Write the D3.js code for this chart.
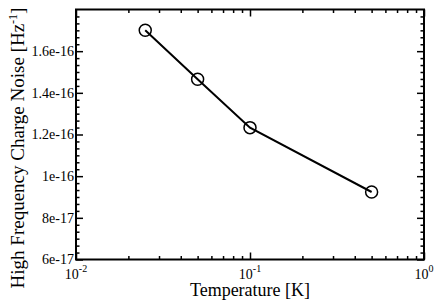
<!DOCTYPE html>
<html>
<head>
<meta charset="utf-8">
<script src="https://cdn.jsdelivr.net/npm/d3@7"></script>
<style>
  body { margin: 0; background: #fff; }
  svg text { font-family: "Liberation Serif", "Times New Roman", Times, serif; }
</style>
</head>
<body>
<svg id="chart" width="436" height="300"></svg>
<script>
// data
var temperature = [0.025, 0.05, 0.1, 0.5];
var noise = [1.70e-16, 1.465e-16, 1.233e-16, 0.924e-16];
var yTicks = [6e-17, 8e-17, 1e-16, 1.2e-16, 1.4e-16, 1.6e-16];
var yTickLabels = ["6e-17", "8e-17", "1e-16", "1.2e-16", "1.4e-16", "1.6e-16"];
var xTicks = [0.01, 0.1, 1];
var xTickExps = ["-2", "-1", "0"];

var serif = "'Liberation Serif', 'Times New Roman', Times, serif";

var svg = d3.select("svg#chart"),
    margin = { top: 9.5, right: 12, bottom: 40.5, left: 76 },
    width = 436 - margin.left - margin.right,
    height = 300 - margin.top - margin.bottom;

var x = d3.scaleLog().domain([0.01, 1]).range([0, width]);
var y = d3.scaleLinear().domain([6e-17, 1.8e-16]).range([height, 0]);

var g = svg.append("g")
    .attr("transform", "translate(" + margin.left + "," + margin.top + ")");

// minor ticks
var yMinor = d3.range(0, 37).map(function (i) { return 6e-17 + i * 2e-17 / 6; })
    .filter(function (v, i) { return i % 6 != 0; });
var xMinor = [];
[0.01, 0.1].forEach(function (dec) {
    for (var k = 2; k <= 9; k++) xMinor.push(dec * k);
});

// bottom / top axes (ticks inward)
g.append("g")
    .attr("transform", "translate(0," + height + ")")
    .call(d3.axisBottom(x).tickValues(xMinor).tickSize(-3.5).tickFormat(""));
g.append("g")
    .attr("transform", "translate(0," + height + ")")
    .call(d3.axisBottom(x).tickValues(xTicks).tickSize(-7).tickFormat(""));
g.append("g")
    .call(d3.axisTop(x).tickValues(xMinor).tickSize(-3.5).tickFormat(""));
g.append("g")
    .call(d3.axisTop(x).tickValues(xTicks).tickSize(-7).tickFormat(""));

// left / right
g.append("g")
    .call(d3.axisLeft(y).tickValues(yMinor).tickSize(-3.5).tickFormat(""));
g.append("g")
    .call(d3.axisLeft(y).tickValues(yTicks).tickSize(-7).tickFormat(""));
g.append("g")
    .attr("transform", "translate(" + width + ",0)")
    .call(d3.axisRight(y).tickValues(yMinor).tickSize(-3.5).tickFormat(""));
g.append("g")
    .attr("transform", "translate(" + width + ",0)")
    .call(d3.axisRight(y).tickValues(yTicks).tickSize(-7).tickFormat(""));

svg.selectAll("path.domain").remove();
svg.selectAll(".tick line").attr("stroke", "#000").attr("stroke-width", 1.5);

// frame
g.append("rect")
    .attr("width", width)
    .attr("height", height)
    .attr("fill", "none")
    .attr("stroke", "#000")
    .attr("stroke-width", 2);

// y tick labels
g.selectAll(".ylab")
    .data(yTicks)
    .enter()
    .append("text")
    .attr("class", "ylab")
    .attr("x", -2)
    .attr("y", function (d) { return y(d); })
    .attr("dy", "0.35em")
    .attr("text-anchor", "end")
    .attr("font-family", serif)
    .style("font-size", "14px")
    .text(function (d, i) { return yTickLabels[i]; });

// x tick labels: 10^n
var xl = g.selectAll(".xlab")
    .data(xTicks)
    .enter()
    .append("text")
    .attr("class", "xlab")
    .attr("x", function (d) { return x(d); })
    .attr("y", height + 19)
    .attr("text-anchor", "middle")
    .attr("font-family", serif)
    .style("font-size", "14px");
xl.append("tspan").text("10");
xl.append("tspan")
    .attr("dy", -7)
    .style("font-size", "10px")
    .text(function (d, i) { return xTickExps[i]; });

// line + markers
var pts = temperature.map(function (t, i) { return [t, noise[i]]; });
g.append("path")
    .datum(pts)
    .attr("fill", "none")
    .attr("stroke", "#000")
    .attr("stroke-width", 2)
    .attr("d", d3.line()
        .x(function (d) { return x(d[0]); })
        .y(function (d) { return y(d[1]); }));

g.selectAll(".pt")
    .data(pts)
    .enter()
    .append("circle")
    .attr("class", "pt")
    .attr("cx", function (d) { return x(d[0]); })
    .attr("cy", function (d) { return y(d[1]); })
    .attr("r", 6)
    .attr("fill", "none")
    .attr("stroke", "#000")
    .attr("stroke-width", 1.5);

// axis titles
svg.append("text")
    .attr("x", margin.left + width / 2)
    .attr("y", 296)
    .attr("text-anchor", "middle")
    .attr("font-family", serif)
    .style("font-size", "18px")
    .text("Temperature [K]");

var yt = svg.append("text")
    .attr("transform", "translate(24," + 148 + ") rotate(-90)")
    .attr("text-anchor", "middle")
    .attr("font-family", serif)
    .style("font-size", "19px");
yt.append("tspan").text("High Frequency Charge Noise [Hz");
yt.append("tspan").attr("dy", -7).style("font-size", "12px").text("-1");
yt.append("tspan").attr("dy", 7).text("]");
</script>
</body>
</html>
